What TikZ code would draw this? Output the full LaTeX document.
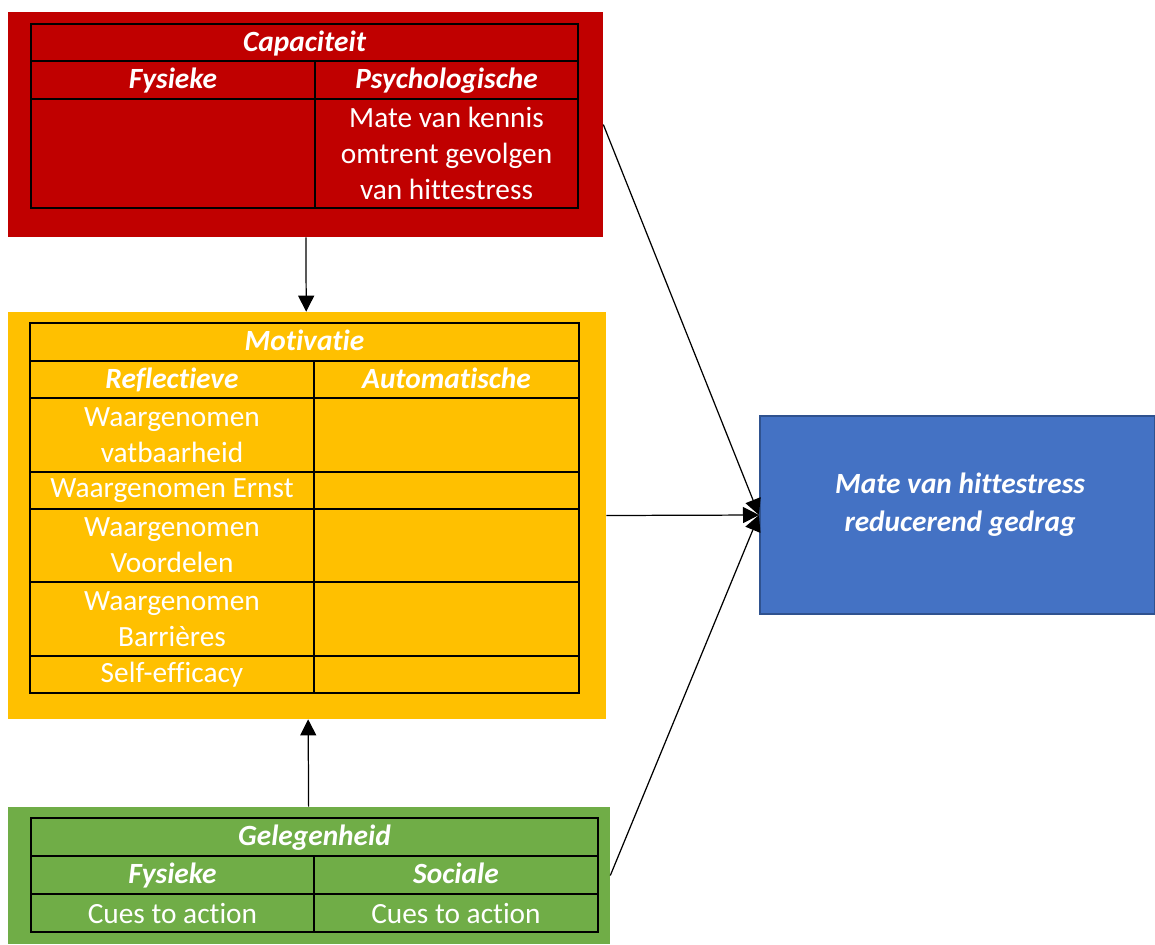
\documentclass[tikz,border=0pt]{standalone}
\usepackage{fontspec}
\setmainfont{Carlito}[Ligatures=CommonOff]
\usepackage{tikz}
\usetikzlibrary{arrows.meta}
\definecolor{rood}{HTML}{C00000}
\definecolor{geel}{HTML}{FFC000}
\definecolor{groen}{HTML}{70AD47}
\definecolor{blauw}{HTML}{4472C4}
\definecolor{blauwrand}{HTML}{2F528F}
\tikzset{
  blok/.style={rectangle,inner sep=0pt},
  cel/.style={draw=black,line width=0.8pt,rectangle,inner sep=0pt,text=white,align=center,
    font=\fontsize{16.7}{20.5}\selectfont},
  kop/.style={cel,text height=1.1em,text depth=0.1em,font=\fontsize{16.7}{20.5}\selectfont\bfseries\itshape},
  pijl/.style={-{Triangle[length=0.32cm,width=0.32cm]},line width=0.7pt}
}
\begin{document}
\begin{tikzpicture}[x=0.02cm,y=-0.02cm]
\useasboundingbox (0,0) rectangle (1155,944);
% Capaciteit
\node[blok,fill=rood,minimum width=11.9cm,minimum height=4.5cm] (capaciteit) at (305.5,124.5) {};
\node[kop,minimum width=10.94cm,minimum height=0.74cm] (capkop) at (304.5,42.5) {Capaciteit};
\node[kop,minimum width=5.68cm,minimum height=0.76cm] (capfys) at (173,80) {Fysieke};
\node[kop,minimum width=5.26cm,minimum height=0.76cm] (cappsy) at (446.5,80) {Psychologische};
\node[cel,minimum width=5.68cm,minimum height=2.18cm] (capfysleeg) at (173,153.5) {};
\node[cel,minimum width=5.26cm,minimum height=2.18cm] (cappsykennis) at (446.5,153.5) {Mate van kennis\\omtrent gevolgen\\van hittestress};
% Motivatie
\node[blok,fill=geel,minimum width=11.96cm,minimum height=8.14cm] (motivatie) at (307,515.5) {};
\node[kop,minimum width=10.98cm,minimum height=0.76cm] (motkop) at (304.5,342) {Motivatie};
\node[kop,minimum width=5.68cm,minimum height=0.74cm] (motrefl) at (172,379.5) {Reflectieve};
\node[kop,minimum width=5.3cm,minimum height=0.74cm] (motauto) at (446.5,379.5) {Automatische};
\node[cel,minimum width=5.68cm,minimum height=1.48cm] (reflvat) at (172,435) {Waargenomen\\vatbaarheid};
\node[cel,minimum width=5.3cm,minimum height=1.48cm] (autovat) at (446.5,435) {};
\node[cel,minimum width=5.68cm,minimum height=0.74cm] (reflernst) at (172,490.5) {Waargenomen Ernst};
\node[cel,minimum width=5.3cm,minimum height=0.74cm] (autoernst) at (446.5,490.5) {};
\node[cel,minimum width=5.68cm,minimum height=1.46cm] (reflvoor) at (172,545.5) {Waargenomen\\Voordelen};
\node[cel,minimum width=5.3cm,minimum height=1.46cm] (autovoor) at (446.5,545.5) {};
\node[cel,minimum width=5.68cm,minimum height=1.48cm] (reflbarr) at (172,619) {Waargenomen\\Barrières};
\node[cel,minimum width=5.3cm,minimum height=1.48cm] (autobarr) at (446.5,619) {};
\node[cel,minimum width=5.68cm,minimum height=0.74cm] (reflself) at (172,674.5) {Self-efficacy};
\node[cel,minimum width=5.3cm,minimum height=0.74cm] (autoself) at (446.5,674.5) {};
% Gelegenheid
\node[blok,fill=groen,minimum width=12.04cm,minimum height=2.74cm] (gelegenheid) at (309,875.5) {};
\node[kop,minimum width=11.34cm,minimum height=0.76cm] (gelkop) at (314.5,837) {Gelegenheid};
\node[kop,minimum width=5.66cm,minimum height=0.76cm] (gelfys) at (172.5,875) {Fysieke};
\node[kop,minimum width=5.68cm,minimum height=0.76cm] (gelsoc) at (456,875) {Sociale};
\node[cel,minimum width=5.66cm,minimum height=0.76cm] (gelfyscues) at (172.5,913) {Cues to action};
\node[cel,minimum width=5.68cm,minimum height=0.76cm] (gelsoccues) at (456,913) {Cues to action};
% gedrag
\node[blok,fill=blauw,draw=blauwrand,line width=1.2pt,minimum width=7.9cm,minimum height=3.96cm] (doel) at (957.5,515) {};
\node[align=center,text=white,font=\fontsize{16.7}{21.5}\selectfont\bfseries\itshape] (doeltekst) at (960,505) {Mate van hittestress\\reducerend gedrag};
% pijlen
\draw[pijl] (capaciteit) -- (motivatie);
\draw[pijl] (gelegenheid) -- (motivatie);
\draw[pijl] (capaciteit.east) -- (doel.west);
\draw[pijl] (motivatie.east) -- (doel.west);
\draw[pijl] (gelegenheid.east) -- (doel.west);
\end{tikzpicture}
\end{document}
